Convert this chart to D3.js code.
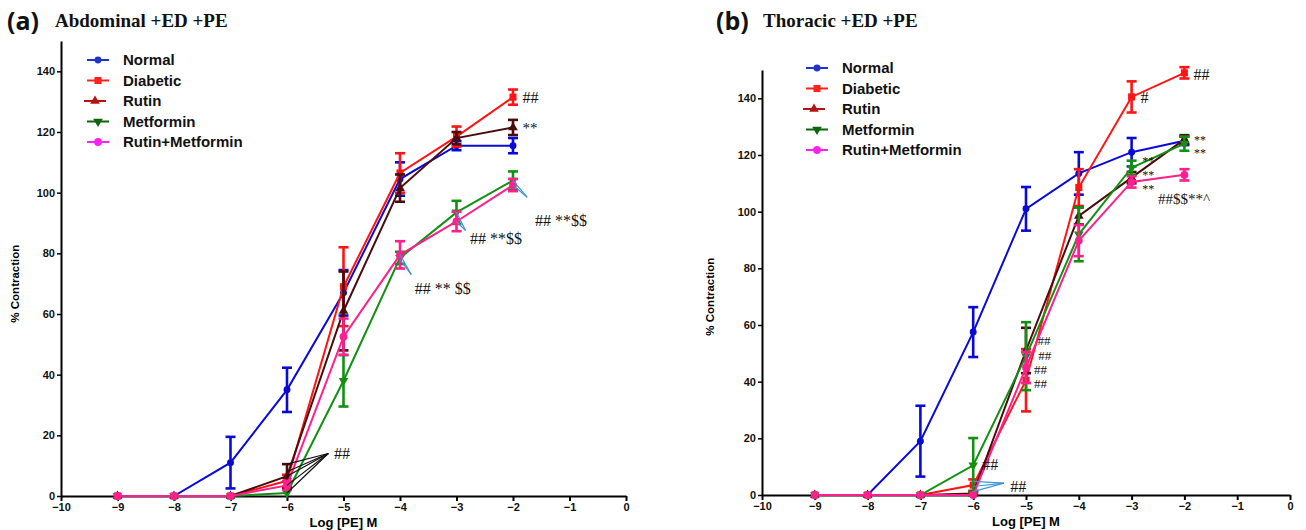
<!DOCTYPE html>
<html>
<head>
<meta charset="utf-8">
<script src="https://cdn.jsdelivr.net/npm/d3@7"></script>
<style>
body { margin: 0; background: #fff; }
svg { display: block; }
</style>
</head>
<body>
<div id="chart"></div>
<script>
/*global d3*/
var doses = [-9, -8, -7, -6, -5, -4, -3, -2];
var groups = ["Normal", "Diabetic", "Rutin", "Metformin", "Rutin+Metformin"];
var xTicks = [-10, -9, -8, -7, -6, -5, -4, -3, -2, -1, 0];
var yTicks = [0, 20, 40, 60, 80, 100, 120, 140];

// (a) abdominal
var abdNormal = [0, 0, 11, 35, 67, 104.5, 115.5, 115.5];
var abdNormalSem = [0, 0, 8.5, 7.3, 7.5, 5.5, 1.5, 2.5];
var abdDiabetic = [0, 0, 0, 5, 69, 106.5, 118.5, 131.5];
var abdDiabeticSem = [0, 0, 0, 2, 13, 6.5, 3.3, 2.5];
var abdRutin = [0, 0, 0, 6.5, 61, 101.5, 118, 121.5];
var abdRutinSem = [0, 0, 0, 4, 13, 4.5, 2, 2.5];
var abdMetformin = [0, 0, 0, 1, 38, 78.5, 93.5, 104];
var abdMetforminSem = [0, 0, 0, 0, 8.5, 2, 3.8, 3];
var abdCombo = [0, 0, 0, 3.5, 52.5, 79.5, 90.5, 102.5];
var abdComboSem = [0, 0, 0, 1.5, 6, 4.5, 3.2, 2];

// (b) thoracic
var thoNormal = [0, 0, 19, 57.5, 101, 113.5, 121, 125];
var thoNormalSem = [0, 0, 12.5, 8.8, 7.7, 7.5, 5, 1.5];
var thoDiabetic = [0, 0, 0, 3.5, 40.5, 108.5, 140.5, 149];
var thoDiabeticSem = [0, 0, 0, 2, 11, 6.5, 5.5, 2];
var thoRutin = [0, 0, 0, 0.5, 51, 98.5, 112, 125.5];
var thoRutinSem = [0, 0, 0, 0.5, 8, 3, 2, 1.5];
var thoMetformin = [0, 0, 0, 10.5, 49, 92, 115.5, 124];
var thoMetforminSem = [0, 0, 0, 9.6, 12, 9.5, 2.5, 2.5];
var thoCombo = [0, 0, 0, 0, 45, 89.8, 110.5, 113];
var thoComboSem = [0, 0, 0, 0, 5.5, 5.5, 2, 2];

var lineColors = ["#0a0ad6", "#ff1414", "#4a0c0c", "#129012", "#ff1f8e"];
var legendColors = ["#2233cc", "#ff2020", "#b41414", "#0b650b", "#ff22ee"];
var symbols = [d3.symbolCircle, d3.symbolSquare, d3.symbolTriangle, d3.symbolTriangle, d3.symbolCircle];
var symSizes = [38, 50, 40, 40, 48];
var symRotate = [0, 0, 0, 180, 0];

var width = 1306, height = 530;

var svg = d3.select("#chart")
    .append("svg")
    .attr("width", width)
    .attr("height", height);

function drawPanel(p) {
    var x = d3.scaleLinear().domain([-10, 0]).range([p.x0, p.x1]);
    var y = d3.scaleLinear().domain([0, 150]).range([p.y0, p.y1]);
    var g = svg.append("g");

    g.append("g")
        .attr("transform", "translate(0," + y(0) + ")")
        .call(d3.axisBottom(x).tickValues(xTicks).tickSize(5).tickSizeOuter(0))
        .call(function(a) {
            a.select(".domain").attr("stroke", "#000").attr("stroke-width", 2);
            a.selectAll(".tick line").attr("stroke", "#000").attr("stroke-width", 2);
            a.selectAll("text")
                .attr("dy", "0.6em")
                .style("font-family", "Liberation Sans, Arial, sans-serif")
                .style("font-weight", "bold")
                .style("font-size", "11px")
                .attr("fill", "#111");
        });

    g.append("g")
        .attr("transform", "translate(" + x(-10) + ",0)")
        .call(d3.axisLeft(y).tickValues(yTicks).tickSize(4).tickSizeOuter(0))
        .call(function(a) {
            a.select(".domain").attr("stroke", "#000").attr("stroke-width", 2);
            a.selectAll(".tick line").attr("stroke", "#000").attr("stroke-width", 1.5);
            a.selectAll("text")
                .attr("x", -6)
                .style("font-family", "Liberation Sans, Arial, sans-serif")
                .style("font-weight", "bold")
                .style("font-size", "11px")
                .attr("fill", "#111");
        });

    g.append("text")
        .text("Log [PE] M")
        .attr("x", x(-5))
        .attr("y", p.y0 + 31)
        .attr("text-anchor", "middle")
        .style("font-family", "Liberation Sans, Arial, sans-serif")
        .style("font-weight", "bold")
        .style("font-size", "13px");

    g.append("text")
        .text("% Contraction")
        .attr("transform", "translate(" + p.yLabelX + "," + y(70) + ") rotate(-90)")
        .attr("text-anchor", "middle")
        .style("font-family", "Liberation Sans, Arial, sans-serif")
        .style("font-weight", "bold")
        .style("font-size", "11.5px");

    g.append("text")
        .text(p.tag)
        .attr("x", p.tagX)
        .attr("y", 30)
        .style("font-family", "Open Sans, Liberation Sans, sans-serif")
        .style("font-weight", "bold")
        .style("font-size", "25px")
        .attr("fill", "#111");

    g.append("text")
        .text(p.title)
        .attr("x", p.titleX)
        .attr("y", 27)
        .style("font-family", "Liberation Serif, Times New Roman, serif")
        .style("font-weight", "bold")
        .style("font-size", "19px")
        .attr("fill", "#111");

    var line = d3.line()
        .x(function(d) { return x(d[0]); })
        .y(function(d) { return y(d[1]); });

    p.series.forEach(function(s, i) {
        var pts = doses.map(function(d, j) { return [d, s[0][j], s[1][j]]; });
        var sg = g.append("g");

        sg.append("path")
            .datum(pts)
            .attr("d", line)
            .attr("fill", "none")
            .attr("stroke", lineColors[i])
            .attr("stroke-width", 2);

        var eb = sg.selectAll("g.err")
            .data(pts.filter(function(d) { return d[2] > 0; }))
            .enter()
            .append("g")
            .attr("stroke", lineColors[i])
            .attr("stroke-width", 2.6);
        eb.append("line")
            .attr("x1", function(d) { return x(d[0]); })
            .attr("x2", function(d) { return x(d[0]); })
            .attr("y1", function(d) { return y(d[1] - d[2]); })
            .attr("y2", function(d) { return y(d[1] + d[2]); });
        eb.append("line")
            .attr("x1", function(d) { return x(d[0]) - 5; })
            .attr("x2", function(d) { return x(d[0]) + 5; })
            .attr("y1", function(d) { return y(d[1] + d[2]); })
            .attr("y2", function(d) { return y(d[1] + d[2]); });
        eb.append("line")
            .attr("x1", function(d) { return x(d[0]) - 5; })
            .attr("x2", function(d) { return x(d[0]) + 5; })
            .attr("y1", function(d) { return y(d[1] - d[2]); })
            .attr("y2", function(d) { return y(d[1] - d[2]); });

        sg.selectAll("path.pt")
            .data(pts)
            .enter()
            .append("path")
            .attr("class", "pt")
            .attr("d", d3.symbol().type(symbols[i]).size(symSizes[i]))
            .attr("transform", function(d) {
                return "translate(" + x(d[0]) + "," + y(d[1]) + ") rotate(" + symRotate[i] + ")";
            })
            .attr("fill", lineColors[i]);
    });

    // legend
    var lg = g.append("g");
    groups.forEach(function(name, i) {
        var ly = p.legendY + i * 20.5;
        var lx = p.legendX - (i === 2 ? 3 : 0);
        lg.append("line")
            .attr("x1", lx)
            .attr("x2", lx + 22)
            .attr("y1", ly)
            .attr("y2", ly)
            .attr("stroke", legendColors[i])
            .attr("stroke-width", 2);
        lg.append("path")
            .attr("d", d3.symbol().type(symbols[i]).size(symSizes[i]))
            .attr("transform", "translate(" + (lx + 11) + "," + ly + ") rotate(" + symRotate[i] + ")")
            .attr("fill", legendColors[i]);
        lg.append("text")
            .text(name)
            .attr("x", p.legendX + 36)
            .attr("y", ly)
            .attr("dy", "0.36em")
            .style("font-family", "Liberation Sans, Arial, sans-serif")
            .style("font-weight", "bold")
            .style("font-size", "15px")
            .attr("fill", "#111");
    });

    // leader lines
    p.leaders.forEach(function(l) {
        l.from.forEach(function(f) {
            g.append("line")
                .attr("x1", x(f[0]))
                .attr("y1", y(f[1]))
                .attr("x2", x(l.to[0]))
                .attr("y2", y(l.to[1]))
                .attr("stroke", l.color)
                .attr("stroke-width", 1.2);
        });
    });

    // significance marks
    p.notes.forEach(function(n) {
        g.append("text")
            .text(n.t)
            .attr("x", x(n.at[0]))
            .attr("y", y(n.at[1]))
            .attr("dy", "0.35em")
            .style("font-family", "Liberation Serif, Times New Roman, serif")
            .style("font-size", (n.s || 16) + "px")
            .attr("fill", "#111");
    });
}

drawPanel({
    x0: 61, x1: 626, y0: 496, y1: 41, yLabelX: 19,
    tag: "(a)", tagX: 7, title: "Abdominal +ED +PE", titleX: 55,
    legendX: 87, legendY: 60,
    series: [[abdNormal, abdNormalSem], [abdDiabetic, abdDiabeticSem], [abdRutin, abdRutinSem],
             [abdMetformin, abdMetforminSem], [abdCombo, abdComboSem]],
    leaders: [
        {color: "#3f93d6", to: [-4 + 0.2, 73], from: [[-4, 79.5], [-4, 78]]},
        {color: "#3f93d6", to: [-3 + 0.16, 87.5], from: [[-3, 93.5], [-3, 90.5]]},
        {color: "#3f93d6", to: [-2 + 0.25, 98.5], from: [[-2, 104], [-2, 102.5]]},
        {color: "#111", to: [-5.27, 14], from: [[-6, 10.5], [-6, 8], [-6, 6.5], [-6, 3.5], [-6, 1]]}
    ],
    notes: [
        {t: "##", at: [-2 + 0.17, 131.5]},
        {t: "**", at: [-2 + 0.17, 121.5], s: 15},
        {t: "## **$$", at: [-2 + 0.39, 91]},
        {t: "## **$$", at: [-3 + 0.24, 85]},
        {t: "## ** $$", at: [-4 + 0.26, 68.5]},
        {t: "##", at: [-5.17, 14]}
    ]
});

drawPanel({
    x0: 762, x1: 1290, y0: 495, y1: 70, yLabelX: 714,
    tag: "(b)", tagX: 716, title: "Thoracic +ED +PE", titleX: 763,
    legendX: 806, legendY: 68,
    series: [[thoNormal, thoNormalSem], [thoDiabetic, thoDiabeticSem], [thoRutin, thoRutinSem],
             [thoMetformin, thoMetforminSem], [thoCombo, thoComboSem]],
    leaders: [
        {color: "#3f93d6", to: [-5.42, 4.2], from: [[-6, 4.8], [-6, 3], [-6, 1.2]]}
    ],
    notes: [
        {t: "##", at: [-2 + 0.17, 148.5]},
        {t: "#", at: [-3 + 0.17, 140.5]},
        {t: "**", at: [-2 + 0.18, 125.5], s: 12},
        {t: "**", at: [-2 + 0.18, 120.7], s: 12},
        {t: "**", at: [-3 + 0.2, 117.8], s: 12},
        {t: "**", at: [-3 + 0.2, 113], s: 12},
        {t: "**", at: [-3 + 0.2, 108.2], s: 12},
        {t: "##$$**^", at: [-2.5, 104.5], s: 15},
        {t: "##", at: [-5 + 0.22, 54.5], s: 13},
        {t: "##", at: [-5 + 0.23, 49.4], s: 13},
        {t: "##", at: [-5 + 0.15, 44.3], s: 13},
        {t: "##", at: [-5 + 0.15, 39.2], s: 13},
        {t: "##", at: [-6 + 0.17, 10.8]},
        {t: "##", at: [-5.3, 3]}
    ]
});
</script>
</body>
</html>
